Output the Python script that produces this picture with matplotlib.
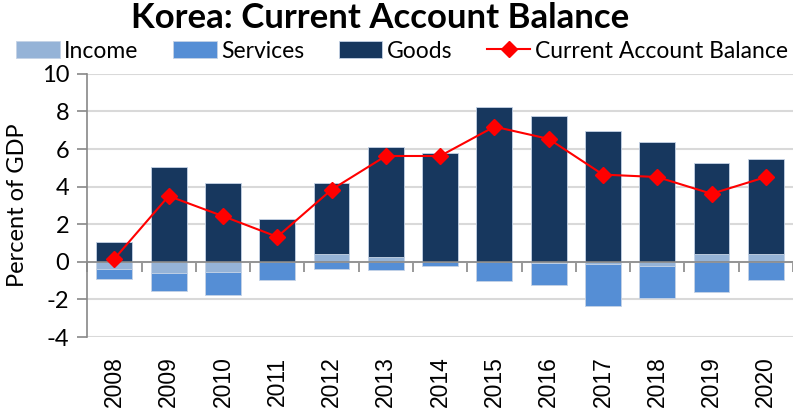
import numpy as np
import matplotlib
matplotlib.use("Agg")
from matplotlib import pyplot as plt

years = ["2008", "2009", "2010", "2011", "2012", "2013", "2014",
         "2015", "2016", "2017", "2018", "2019", "2020"]
income = [-0.37, -0.62, -0.53, 0.0, 0.43, 0.23, -0.03, 0.0, -0.07, -0.10, -0.20, 0.43, 0.43]
services = [-0.55, -0.94, -1.21, -0.96, -0.39, -0.46, -0.20, -1.03, -1.17, -2.26, -1.70, -1.63, -0.98]
goods = [1.08, 5.04, 4.19, 2.27, 3.78, 5.86, 5.81, 8.21, 7.76, 6.98, 6.38, 4.83, 5.06]
current_account = [0.16, 3.50, 2.43, 1.33, 3.84, 5.63, 5.63, 7.19, 6.54, 4.64, 4.51, 3.62, 4.51]

CAL = "Lato"
c_income = "#95b3d7"
c_services = "#558ed5"
c_goods = "#17375e"

fig = plt.figure(figsize=(7.93, 4.08), dpi=100)
ax = fig.add_axes([0.110, 0.174, 0.890, 0.645])

x = np.arange(len(years))
pos = np.zeros(len(years))
neg = np.zeros(len(years))
for vals, col, lab in [(income, c_income, "Income"),
                       (services, c_services, "Services"),
                       (goods, c_goods, "Goods")]:
    v = np.array(vals)
    bottom = np.where(v >= 0, pos, neg)
    ax.bar(x, v, 0.66, bottom=bottom, color=col, edgecolor="#c5d3e6",
           linewidth=0.6, label=lab, zorder=3)
    pos = pos + np.clip(v, 0, None)
    neg = neg + np.clip(v, None, 0)

ax.plot(x, current_account, color="#ff0000", lw=1.5, marker="D", ms=8.5,
        label="Current Account Balance", zorder=5)

ax.set_xlim(-0.5, len(years) - 0.5)
ax.set_ylim(-4, 10)
ax.set_yticks(range(-4, 11, 2))
ax.set_yticklabels([str(t) for t in range(-4, 11, 2)], fontfamily=CAL, fontsize=17)
ax.grid(axis="y", color="#d9d9d9", lw=1.5, zorder=0)
ax.set_axisbelow(True)
for s in ["top", "right", "bottom"]:
    ax.spines[s].set_visible(False)
ax.spines["left"].set_color("#888888")
ax.spines["left"].set_linewidth(1.2)
ax.tick_params(axis="y", length=7, color="#888888", width=1.2, pad=6)

ax.set_xticks(x)
ax.set_xticklabels(years, rotation=90, fontfamily="Liberation Sans", fontsize=16.5)
ax.tick_params(axis="x", length=0, pad=14)

# zero line with category separators
ax.axhline(0, color="#888888", lw=1.2, zorder=4)
sec = ax.secondary_xaxis(4 / 14)
sec.set_xticks(np.arange(len(years) + 1) - 0.5)
sec.set_xticklabels([])
sec.tick_params(length=7, color="#888888", width=1.2)
sec.spines["bottom"].set_visible(False)

ax.set_ylabel("Percent of GDP", fontfamily=CAL, fontsize=17, labelpad=10)

fig.suptitle("Korea: Current Account Balance", fontfamily=CAL, fontweight="bold",
             fontsize=25, x=0.479, y=0.996)

h, l = ax.get_legend_handles_labels()
order = [1, 2, 3, 0]
fig.legend([h[i] for i in order], [l[i] for i in order], loc="center",
           bbox_to_anchor=(0.507, 0.875), ncol=4, frameon=False,
           prop={"family": CAL, "size": 16.5}, handlelength=1.9, handleheight=0.8,
           handletextpad=0.2, columnspacing=1.5, borderaxespad=0)

fig.savefig("out.png", dpi=100)
